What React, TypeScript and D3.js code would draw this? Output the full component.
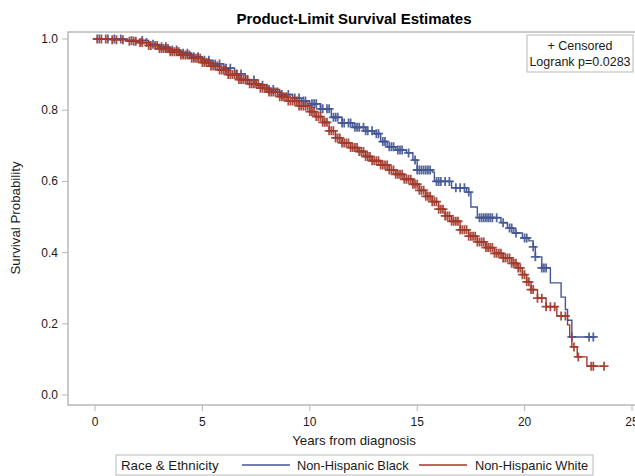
import React from "react";
import * as d3 from "d3";

// Kaplan-Meier step points (years, survival)
const blackTimes = [0, 1.5, 2.5, 3.0, 3.5, 4.0, 4.5, 5.0, 5.5, 6.0, 6.5, 7.0, 7.5, 8.0, 8.6, 9.2, 9.6, 10.0, 10.5, 11.0, 11.5, 12.0, 12.6, 13.0, 13.3, 13.6, 14.0, 14.5, 14.8, 15.0, 15.7, 15.8, 16.6, 17.3, 17.5, 17.8, 18.9, 19.2, 19.5, 19.9, 20.2, 20.4, 20.5, 20.8, 21.2, 21.7, 21.9, 22.0, 22.2, 23.3];
const blackSurv = [1.0, 0.996, 0.985, 0.978, 0.969, 0.96, 0.95, 0.94, 0.93, 0.918, 0.902, 0.885, 0.87, 0.858, 0.844, 0.834, 0.826, 0.818, 0.804, 0.78, 0.764, 0.752, 0.742, 0.734, 0.712, 0.697, 0.688, 0.68, 0.66, 0.632, 0.626, 0.6, 0.582, 0.57, 0.528, 0.498, 0.484, 0.469, 0.455, 0.441, 0.433, 0.416, 0.388, 0.357, 0.315, 0.275, 0.24, 0.21, 0.163, 0.163];

const whiteTimes = [0, 0.8, 1.5, 2.0, 2.5, 3.0, 3.5, 4.0, 4.5, 5.0, 5.4, 5.8, 6.2, 6.7, 7.2, 7.7, 8.1, 8.6, 9.0, 9.5, 10.0, 10.3, 10.6, 10.9, 11.2, 11.5, 11.9, 12.3, 12.6, 12.9, 13.3, 13.7, 14.0, 14.4, 14.8, 15.1, 15.4, 15.7, 16.0, 16.3, 16.6, 17.0, 17.4, 17.8, 18.2, 18.6, 19.0, 19.4, 19.7, 19.9, 20.1, 20.3, 20.6, 21.0, 21.5, 22.0, 22.1, 22.2, 22.45, 22.9, 23.7];
const whiteSurv = [1.0, 0.998, 0.994, 0.99, 0.982, 0.973, 0.964, 0.955, 0.946, 0.934, 0.924, 0.913, 0.9, 0.886, 0.874, 0.862, 0.851, 0.838, 0.826, 0.812, 0.796, 0.782, 0.766, 0.742, 0.722, 0.708, 0.695, 0.684, 0.67, 0.658, 0.646, 0.632, 0.62, 0.606, 0.592, 0.575, 0.558, 0.543, 0.522, 0.503, 0.488, 0.464, 0.446, 0.43, 0.414, 0.398, 0.385, 0.37, 0.357, 0.338, 0.318, 0.296, 0.272, 0.248, 0.222, 0.197, 0.163, 0.135, 0.107, 0.081, 0.081];

// censored observation times
const blackCensored = [0.2, 0.6, 0.9, 1.2, 1.7, 2.2, 2.7, 3.1, 3.3, 3.6, 3.8, 4.1, 4.3, 4.6, 4.8, 5.1, 5.3, 5.6, 5.8, 6.1, 6.3, 6.6, 6.8, 7.1, 7.4, 7.8, 8.1, 8.3, 8.7, 9.0, 9.3, 9.5, 9.7, 9.8, 10.1, 10.2, 10.3, 10.5, 10.6, 10.8, 10.9, 11.1, 11.2, 11.3, 11.5, 11.6, 11.8, 11.9, 12.1, 12.2, 12.3, 12.5, 12.6, 12.7, 12.9, 13.1, 13.2, 13.4, 13.5, 13.7, 13.8, 13.9, 14.1, 14.2, 14.3, 14.6, 14.9, 15.0, 15.1, 15.2, 15.3, 15.4, 15.5, 15.6, 15.9, 16.0, 16.1, 16.3, 16.5, 16.8, 17.0, 17.2, 17.4, 17.9, 18.0, 18.1, 18.2, 18.3, 18.4, 18.5, 18.7, 19.0, 19.3, 19.4, 19.6, 20.0, 20.1, 20.4, 20.5, 20.8, 20.9, 21.0, 22.2, 23.0, 23.2];
const whiteCensored = [0.1, 0.3, 0.5, 0.8, 1.0, 1.3, 1.6, 1.8, 1.9, 2.1, 2.2, 2.4, 2.5, 2.6, 2.8, 2.9, 3.0, 3.1, 3.2, 3.3, 3.4, 3.5, 3.6, 3.7, 3.8, 3.9, 4.0, 4.1, 4.2, 4.3, 4.4, 4.5, 4.6, 4.7, 4.8, 4.9, 5.0, 5.1, 5.2, 5.3, 5.4, 5.5, 5.6, 5.7, 5.8, 5.9, 6.0, 6.1, 6.2, 6.3, 6.4, 6.5, 6.6, 6.7, 6.8, 6.9, 7.0, 7.1, 7.2, 7.3, 7.4, 7.5, 7.6, 7.7, 7.8, 7.9, 8.0, 8.1, 8.2, 8.3, 8.4, 8.5, 8.6, 8.7, 8.8, 8.9, 9.0, 9.1, 9.2, 9.3, 9.4, 9.5, 9.6, 9.7, 9.8, 9.9, 10.0, 10.1, 10.2, 10.3, 10.4, 10.5, 10.6, 10.7, 10.8, 10.9, 11.0, 11.1, 11.2, 11.3, 11.4, 11.5, 11.6, 11.7, 11.8, 11.9, 12.0, 12.1, 12.2, 12.3, 12.4, 12.5, 12.6, 12.7, 12.8, 12.9, 13.0, 13.1, 13.2, 13.3, 13.4, 13.5, 13.6, 13.7, 13.8, 13.9, 14.0, 14.1, 14.2, 14.3, 14.4, 14.5, 14.6, 14.7, 14.8, 14.9, 15.0, 15.1, 15.2, 15.3, 15.4, 15.5, 15.6, 15.7, 15.8, 15.9, 16.0, 16.1, 16.2, 16.3, 16.4, 16.5, 16.6, 16.7, 16.8, 16.9, 17.0, 17.1, 17.2, 17.3, 17.4, 17.5, 17.6, 17.7, 17.8, 17.9, 18.0, 18.1, 18.2, 18.3, 18.4, 18.5, 18.6, 18.7, 18.8, 18.9, 19.0, 19.1, 19.2, 19.3, 19.4, 19.5, 19.6, 19.7, 19.8, 19.9, 20.0, 20.1, 20.2, 20.3, 20.4, 20.6, 20.8, 21.0, 21.2, 21.4, 21.7, 21.9, 22.3, 22.5, 23.1, 23.2, 23.7];

const xTicks = [0, 5, 10, 15, 20, 25];
const yTicks = [0, 0.2, 0.4, 0.6, 0.8, 1.0];

const groups = [
  { name: "Non-Hispanic Black", color: "#445694", times: blackTimes, surv: blackSurv, censored: blackCensored },
  { name: "Non-Hispanic White", color: "#A23A2E", times: whiteTimes, surv: whiteSurv, censored: whiteCensored },
];

const FONT = "'Liberation Sans', Arial, sans-serif";
const FRAME = "#B8B8B8";
const TEXT = "#1a1a1a";

export default function App() {
  const frame = { left: 68, top: 32, right: 640, bottom: 405 };
  const x = d3.scaleLinear().domain([0, 25]).range([95, 632]);
  const y = d3.scaleLinear().domain([0, 1]).range([395, 39]);

  const line = d3
    .line<[number, number]>()
    .x((d) => x(d[0]))
    .y((d) => y(d[1]))
    .curve(d3.curveStepAfter);

  // survival at time t on a step curve
  const survAt = (times: number[], surv: number[], t: number) => {
    const i = d3.bisectRight(times, t) - 1;
    return surv[Math.max(0, i)];
  };

  return (
    <svg width={635} height={476} style={{ display: "block", position: "absolute", left: 0, top: 0 }}>
      <rect x={0} y={0} width={635} height={476} fill="#fff" />
      <text x={354} y={24} textAnchor="middle" fontFamily={FONT} fontSize={15} fontWeight="bold" fill="#000">
        Product-Limit Survival Estimates
      </text>

      {/* frame */}
      <rect x={frame.left} y={frame.top} width={frame.right - frame.left} height={frame.bottom - frame.top} fill="none" stroke={FRAME} strokeWidth={1.5} />

      {/* Y axis */}
      {yTicks.map((t) => (
        <g key={t}>
          <line x1={frame.left - 6} x2={frame.left} y1={y(t)} y2={y(t)} stroke={FRAME} />
          <text x={frame.left - 10} y={y(t) + 4} textAnchor="end" fontFamily={FONT} fontSize={12} fill={TEXT}>
            {d3.format(".1f")(t)}
          </text>
        </g>
      ))}
      <text transform={`translate(20,218) rotate(-90)`} textAnchor="middle" fontFamily={FONT} fontSize={13.3} fill={TEXT}>
        Survival Probability
      </text>

      {/* X axis */}
      {xTicks.map((t) => (
        <g key={t}>
          <line x1={x(t)} x2={x(t)} y1={frame.bottom} y2={frame.bottom + 6} stroke={FRAME} />
          <text x={x(t)} y={frame.bottom + 21} textAnchor="middle" fontFamily={FONT} fontSize={12} fill={TEXT}>
            {t}
          </text>
        </g>
      ))}
      <text x={354} y={445} textAnchor="middle" fontFamily={FONT} fontSize={13.3} fill={TEXT}>
        Years from diagnosis
      </text>

      {/* curves */}
      {groups.map((g) => {
        const pts = g.times.map((t, i) => [t, g.surv[i]] as [number, number]);
        return (
          <g key={g.name}>
            <path d={line(pts) || ""} fill="none" stroke={g.color} strokeWidth={1.4} />
            {g.censored.map((t, i) => {
              const cx = x(t);
              const cy = y(survAt(g.times, g.surv, t));
              return (
                <path key={i} d={`M${cx - 4.5},${cy}H${cx + 4.5}M${cx},${cy - 4.5}V${cy + 4.5}`} stroke={g.color} strokeWidth={1.8} strokeOpacity={0.9} />
              );
            })}
          </g>
        );
      })}

      {/* inset */}
      <rect x={527} y={35} width={106} height={37} fill="#fff" stroke={FRAME} />
      <text x={580} y={50} textAnchor="middle" fontFamily={FONT} fontSize={12.5} fill={TEXT}>
        + Censored
      </text>
      <text x={580} y={66} textAnchor="middle" fontFamily={FONT} fontSize={12.5} fill={TEXT}>
        Logrank p=0.0283
      </text>

      {/* legend */}
      <rect x={116} y={455} width={477} height={20} fill="#fff" stroke={FRAME} />
      <text x={121} y={470} fontFamily={FONT} fontSize={13.3} fill={TEXT}>
        Race &amp; Ethnicity
      </text>
      <line x1={242} x2={290} y1={465} y2={465} stroke={groups[0].color} strokeWidth={1.4} />
      <text x={297} y={470} fontFamily={FONT} fontSize={12.8} fill={TEXT}>
        {groups[0].name}
      </text>
      <line x1={419} x2={467} y1={465} y2={465} stroke={groups[1].color} strokeWidth={1.4} />
      <text x={475} y={470} fontFamily={FONT} fontSize={12.8} fill={TEXT}>
        {groups[1].name}
      </text>
    </svg>
  );
}
